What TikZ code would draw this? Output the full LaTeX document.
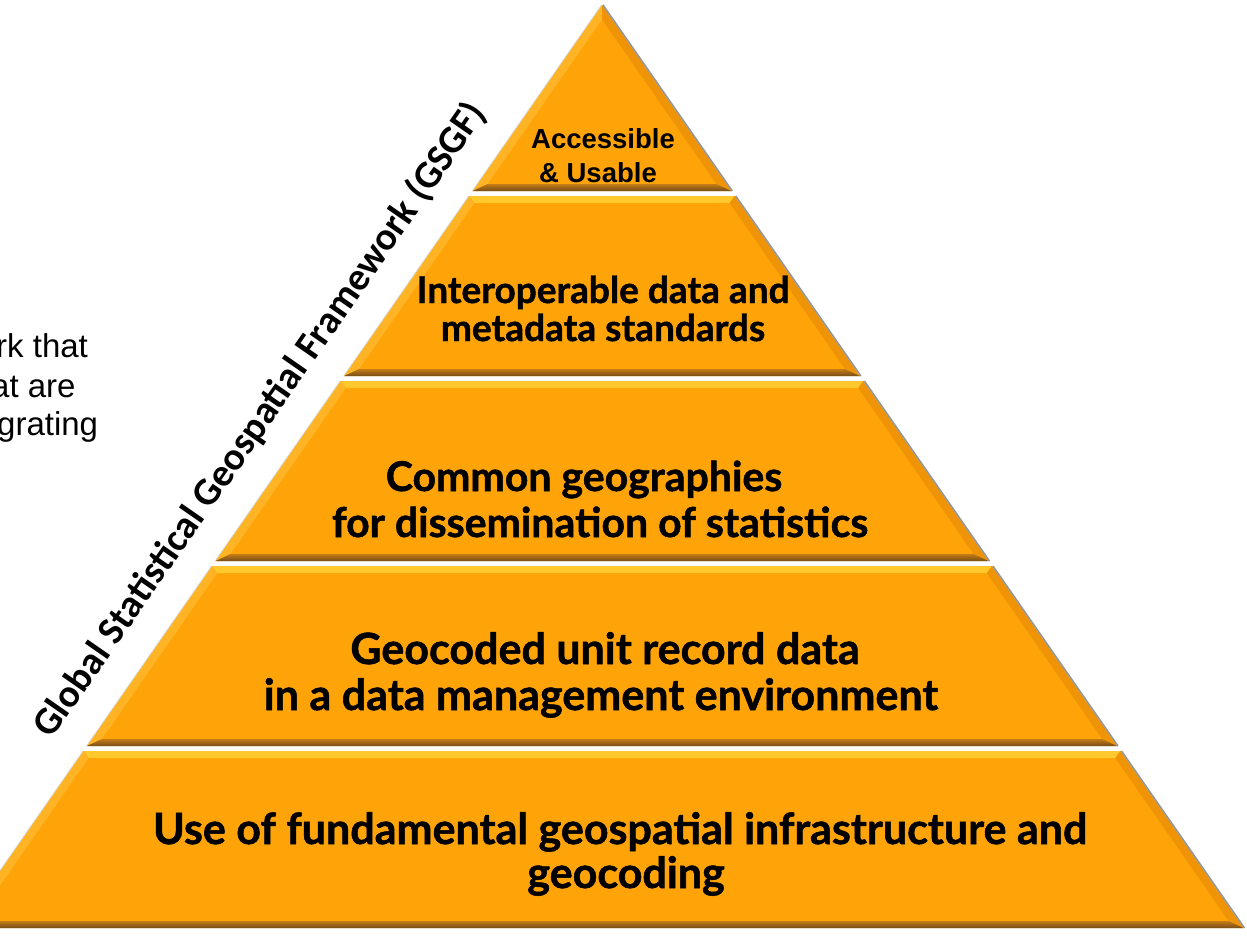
\documentclass[tikz,border=0pt]{standalone}
\usepackage{fontspec}
\setmainfont{Lato}[BoldFeatures={FakeBold=1.2}]
\newfontfamily\arialfont{Liberation Sans}
\newfontfamily\calibrifont{Carlito}
\definecolor{pyrorange}{RGB}{254,164,8}
\definecolor{bevtop}{RGB}{255,200,45}
\definecolor{bevleft}{RGB}{255,180,38}
\definecolor{bevright}{RGB}{238,148,6}
\definecolor{bevbotA}{RGB}{196,124,22}
\definecolor{bevbotB}{RGB}{118,78,24}
\definecolor{edgegray}{RGB}{150,150,150}
\newcommand{\pyrlayer}[3]{%
  \pgfmathsetmacro{\yt}{#1}%
  \pgfmathsetmacro{\yb}{#2}%
  \pgfmathsetmacro{\wt}{0.695*(\yt-5)}%
  \pgfmathsetmacro{\wb}{0.695*(\yb-5)}%
  \pgfmathsetmacro{\yti}{\yt+#3}%
  \pgfmathsetmacro{\ybi}{\yb-7}%
  \pgfmathsetmacro{\wti}{max(0.695*(\yti-5)-10,0)}%
  \pgfmathsetmacro{\wbi}{0.695*(\ybi-5)-10}%
  \coordinate (LT) at ({602-\wt},\yt);
  \coordinate (RT) at ({602+\wt},\yt);
  \coordinate (LB) at ({602-\wb},\yb);
  \coordinate (RB) at ({602+\wb},\yb);
  \coordinate (LTi) at ({602-\wti},\yti);
  \coordinate (RTi) at ({602+\wti},\yti);
  \coordinate (LBi) at ({602-\wbi},\ybi);
  \coordinate (RBi) at ({602+\wbi},\ybi);
  \fill[pyrorange] (LT)--(RT)--(RB)--(LB)--cycle;
  \fill[bevtop] (LT)--(RT)--(RTi)--(LTi)--cycle;
  \fill[bevleft] (LT)--(LTi)--(LBi)--(LB)--cycle;
  \fill[bevright] (RT)--(RTi)--(RBi)--(RB)--cycle;
  \shade[top color=bevbotA,bottom color=bevbotB] (LB)--(RB)--(RBi)--(LBi)--cycle;
  \draw[edgegray,line width=1.6pt] ([xshift=1pt]RT)--([xshift=1pt]RB);
  \draw[gray!35,line width=0.6pt] ([xshift=-0.5pt]LT)--([xshift=-0.5pt]LB);
}
\tikzset{
  bigtext/.style={font=\bfseries\fontsize{43}{43}\selectfont, anchor=base, inner sep=0pt},
  comtext/.style={font=\bfseries\fontsize{41}{41}\selectfont, anchor=base, inner sep=0pt},
  midtext/.style={font=\bfseries\fontsize{37}{37}\selectfont, anchor=base, inner sep=0pt},
  toptext/.style={font=\arialfont\bfseries\fontsize{27.5}{27.5}\selectfont, anchor=base, inner sep=0pt},
  sidetext/.style={font=\arialfont\fontsize{33}{33}\selectfont, anchor=base west, inner sep=0pt},
  gsgftext/.style={font=\calibrifont\bfseries\fontsize{39}{39}\selectfont, anchor=center, inner sep=0pt, rotate=55.2}
}
\begin{document}
\begin{tikzpicture}[x=1pt,y=-1pt]
\useasboundingbox (0,0) rectangle (1247,935);
\clip (0,0) rectangle (1247,935);
\fill[white] (0,0) rectangle (1247,935);
\pyrlayer{5}{191}{14.4}
\pyrlayer{196}{376}{7}
\pyrlayer{381}{561}{7}
\pyrlayer{566}{746}{7}
\pyrlayer{751}{928}{7}
% layer texts
\node[toptext] (t1a) at (603,148) {Accessible};
\node[toptext] (t1b) at (598,182) {\& Usable};
\node[midtext] (t2a) at (603,303) {Interoperable data and};
\node[midtext] (t2b) at (603,341) {metadata standards};
\node[comtext] (t3a) at (584,491) {Common geographies};
\node[comtext] (t3b) at (600,537) {for dissemination of statistics};
\node[bigtext] (t4a) at (605,664) {Geocoded unit record data};
\node[bigtext] (t4b) at (601,710) {in a data management environment};
\node[bigtext] (t5a) at (620,844) {Use of fundamental geospatial infrastructure and};
\node[bigtext] (t5b) at (626,888) {geocoding};
% rotated label
\node[gsgftext] (gsgf) at (260,420) {Global Statistical Geospatial Framework (GSGF)};
% cropped side text
\node[sidetext] (s1) at (-4,357) {rk that};
\node[sidetext] (s2) at (-9,397) {at are};
\node[sidetext] (s3) at (-3,435) {grating};
\end{tikzpicture}
\end{document}
